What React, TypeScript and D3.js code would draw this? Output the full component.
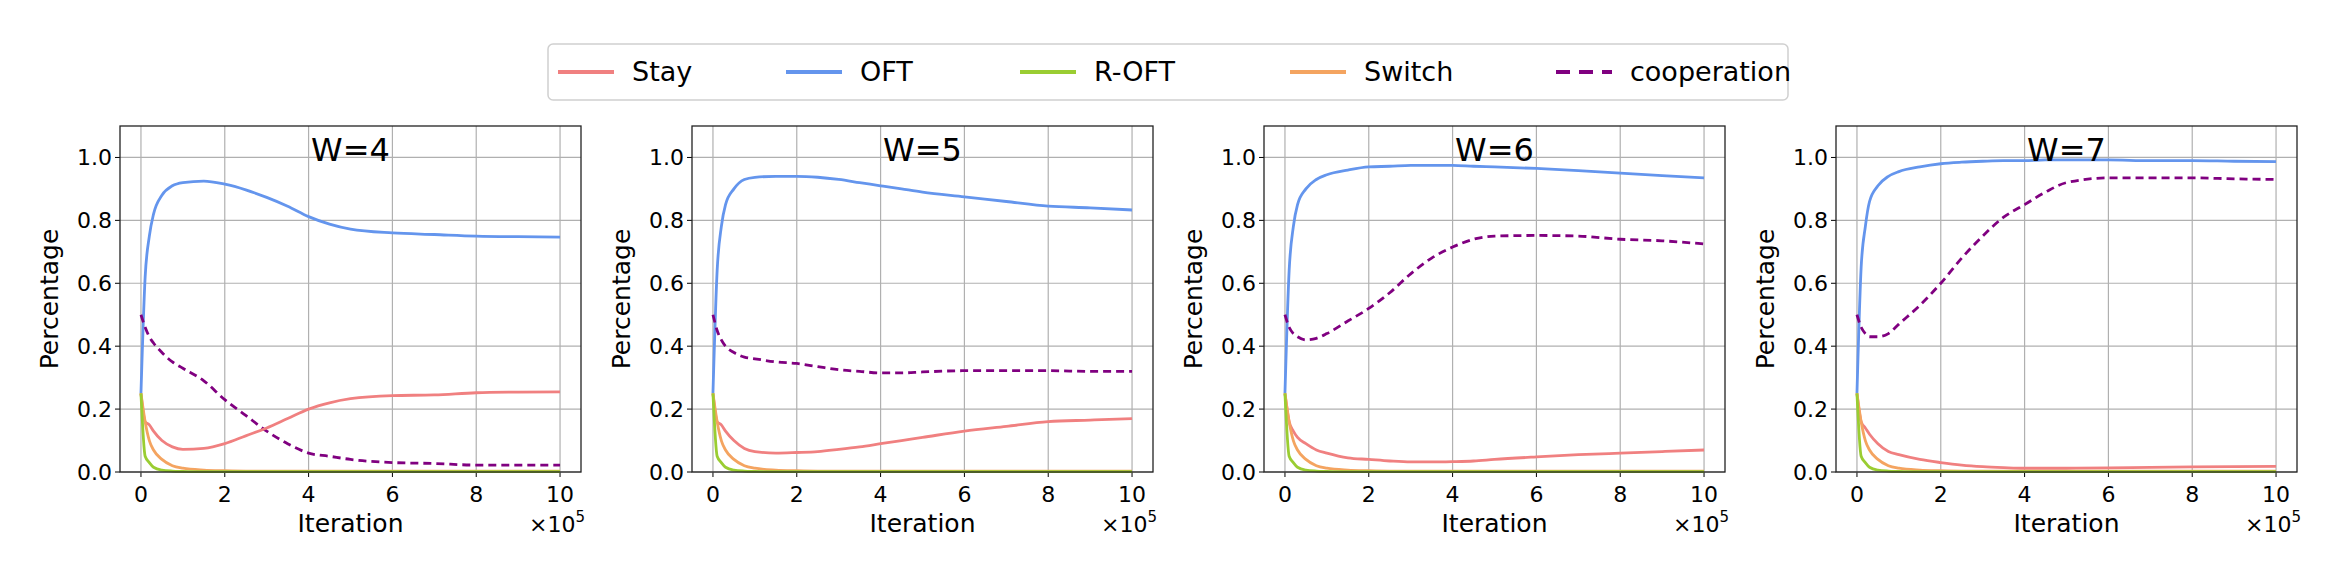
import React from "react";
import * as d3 from "d3";

const xs = [0, 0.1, 0.2, 0.3, 0.5, 0.75, 1, 1.5, 2, 2.5, 3, 3.5, 4, 4.5, 5, 6, 7, 8, 9, 10];
const titles = ["W=4", "W=5", "W=6", "W=7"];
const seriesNames = ["Stay", "OFT", "R-OFT", "Switch", "cooperation"];
const colors = ["#f08080", "#6495ed", "#9acd32", "#f4a460", "#800080"];

const switchVals = [0.25, 0.16, 0.1, 0.07, 0.04, 0.02, 0.012, 0.006, 0.004, 0.003, 0.003, 0.003, 0.003, 0.003, 0.003, 0.003, 0.003, 0.003, 0.003, 0.003];
const roftVals = [0.25, 0.05, 0.03, 0.015, 0.006, 0.003, 0.002, 0.001, 0.001, 0.001, 0.001, 0.001, 0.001, 0.001, 0.001, 0.001, 0.001, 0.001, 0.001, 0.001];

const stayW = [
  [0.25, 0.16, 0.15, 0.13, 0.1, 0.08, 0.072, 0.075, 0.09, 0.115, 0.14, 0.17, 0.2, 0.22, 0.233, 0.243, 0.245, 0.252, 0.254, 0.255],
  [0.25, 0.16, 0.15, 0.13, 0.1, 0.075, 0.065, 0.06, 0.062, 0.065, 0.072, 0.08, 0.09, 0.1, 0.11, 0.13, 0.145, 0.16, 0.165, 0.17],
  [0.25, 0.16, 0.13, 0.11, 0.09, 0.07, 0.06, 0.045, 0.04, 0.035, 0.032, 0.032, 0.033, 0.035, 0.04, 0.048, 0.055, 0.06, 0.065, 0.07],
  [0.25, 0.16, 0.14, 0.12, 0.09, 0.065, 0.055, 0.04, 0.03, 0.022, 0.017, 0.014, 0.012, 0.012, 0.012, 0.013, 0.015, 0.016, 0.017, 0.018],
];
const oftW = [
  [0.25, 0.62, 0.75, 0.82, 0.88, 0.91, 0.92, 0.925, 0.915, 0.897, 0.873, 0.845, 0.812, 0.788, 0.772, 0.76, 0.755, 0.75, 0.748, 0.747],
  [0.25, 0.64, 0.78, 0.85, 0.9, 0.93, 0.937, 0.94, 0.94, 0.937, 0.93, 0.92, 0.91, 0.9, 0.89, 0.875, 0.86, 0.845, 0.84, 0.833],
  [0.25, 0.64, 0.78, 0.85, 0.9, 0.93, 0.945, 0.96, 0.97, 0.972, 0.975, 0.975, 0.975, 0.972, 0.97, 0.965, 0.958, 0.95, 0.942, 0.935],
  [0.25, 0.65, 0.78, 0.86, 0.91, 0.94, 0.955, 0.97, 0.98, 0.985, 0.988, 0.99, 0.99, 0.992, 0.992, 0.992, 0.99, 0.99, 0.988, 0.987],
];
const coopW = [
  [0.5, 0.46, 0.43, 0.41, 0.38, 0.35, 0.33, 0.29, 0.23, 0.18, 0.13, 0.09, 0.06, 0.05, 0.04, 0.03, 0.027, 0.022, 0.022, 0.022],
  [0.5, 0.45, 0.42, 0.4, 0.38, 0.365, 0.36, 0.35, 0.345, 0.335, 0.325, 0.32, 0.315, 0.315, 0.318, 0.322, 0.322, 0.322, 0.32, 0.32],
  [0.5, 0.46, 0.44, 0.43, 0.42, 0.425, 0.44, 0.48, 0.52, 0.57, 0.63, 0.68, 0.715, 0.74, 0.75, 0.752, 0.75, 0.74, 0.735, 0.725],
  [0.5, 0.46, 0.44, 0.43, 0.43, 0.44, 0.47, 0.53, 0.6, 0.68, 0.75, 0.81, 0.85, 0.89, 0.92, 0.935, 0.935, 0.935, 0.932, 0.93],
];
const xTicks = [0, 2, 4, 6, 8, 10];
const yTicks = [0, 0.2, 0.4, 0.6, 0.8, 1.0];

const FONT = "DejaVu Sans";

function Panel({ i, left }: { i: number; left: number }) {
  const top = 126, h = 346, w = 461;
  const x = d3.scaleLinear().domain([-0.5, 10.5]).range([left, left + w]);
  const y = d3.scaleLinear().domain([0, 1.1]).range([top + h, top]);
  const line = d3.line<number>().x((_, k) => x(xs[k])).y((v) => y(v)).curve(d3.curveMonotoneX);
  const series = [stayW[i], oftW[i], roftVals, switchVals, coopW[i]];
  const order = [1, 4, 0, 3, 2];
  return (
    <g>
      {xTicks.map((t) => (
        <g key={"x" + t}>
          <line x1={x(t)} x2={x(t)} y1={top} y2={top + h} stroke="#b0b0b0" strokeWidth={1.2} />
          <line x1={x(t)} x2={x(t)} y1={top + h} y2={top + h + 5} stroke="#000" />
          <text x={x(t)} y={top + h + 30} textAnchor="middle" fontSize={22} fontFamily={FONT}>{t}</text>
        </g>
      ))}
      {yTicks.map((t) => (
        <g key={"y" + t}>
          <line x1={left} x2={left + w} y1={y(t)} y2={y(t)} stroke="#b0b0b0" strokeWidth={1.2} />
          <line x1={left - 5} x2={left} y1={y(t)} y2={y(t)} stroke="#000" />
          <text x={left - 8} y={y(t) + 8} textAnchor="end" fontSize={22} fontFamily={FONT}>{t.toFixed(1)}</text>
        </g>
      ))}
      {order.map((s) => (
        <path key={s} d={line(series[s]) || ""} fill="none" stroke={colors[s]} strokeWidth={2.8}
          strokeDasharray={s === 4 ? "8,5" : undefined} />
      ))}
      <rect x={left} y={top} width={w} height={h} fill="none" stroke="#222" strokeWidth={1.3} />
      <text x={left + w / 2} y={top + 35} textAnchor="middle" fontSize={32} fontFamily={FONT}>{titles[i]}</text>
      <text x={left + w / 2} y={top + h + 60} textAnchor="middle" fontSize={25} fontFamily={FONT}>Iteration</text>
      <text x={left + w + 4} y={top + h + 60} textAnchor="end" fontSize={22} fontFamily={FONT}>
        ×10<tspan dy={-10} fontSize={15}>5</tspan>
      </text>
      <text transform={`translate(${left - 62},${top + h / 2}) rotate(-90)`} textAnchor="middle" fontSize={25} fontFamily={FONT}>Percentage</text>
    </g>
  );
}

export default function App() {
  const lefts = [120, 692, 1264, 1836];
  const legX = [558, 786, 1020, 1290, 1556];
  return (
    <svg width={2350} height={572} style={{ display: "block", position: "absolute", left: 0, top: 0 }}>
      <rect width={2350} height={572} fill="#fff" />
      <rect x={548} y={44} width={1240} height={56} rx={5} fill="#fff" stroke="#d0d0d0" strokeWidth={1.5} />
      {seriesNames.map((n, k) => (
        <g key={n}>
          <line x1={legX[k]} x2={legX[k] + 56} y1={72} y2={72} stroke={colors[k]} strokeWidth={4}
            strokeDasharray={k === 4 ? "14,9" : undefined} />
          <text x={legX[k] + 74} y={81} fontSize={27} fontFamily={FONT}>{n}</text>
        </g>
      ))}
      {lefts.map((l, i) => <Panel key={i} i={i} left={l} />)}
    </svg>
  );
}
